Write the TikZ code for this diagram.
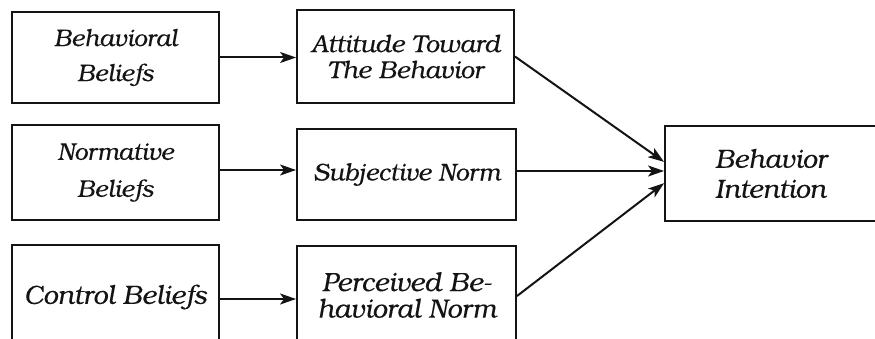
\documentclass[tikz,border=0pt]{standalone}
\usepackage{fontspec}
\setmainfont{TeX Gyre Bonum}
\usetikzlibrary{arrows.meta,calc}
\definecolor{ink}{HTML}{141414}
\tikzset{
  box/.style={draw=ink, line width=1.9pt, inner sep=0pt, text=ink, align=center},
  conn/.style={draw=ink, line width=2pt, -{Stealth[length=16pt,width=11pt,inset=4pt]}},
}
\newcommand{\bfnt}[2]{\itshape\addfontfeature{FakeBold=0.15}\fontsize{#1}{#2}\selectfont}
\begin{document}
\begin{tikzpicture}[x=1pt,y=-1pt]
\useasboundingbox (0,0) rectangle (875,339);
\clip (0,0) rectangle (875,339);
\node[box, minimum width=207pt, minimum height=91pt, font=\bfnt{24}{35}] (bb) at (115.5,57.5) {Behavioral\\Beliefs};
\node[box, minimum width=217pt, minimum height=93pt, font=\bfnt{24.7}{26}] (att) at (405.5,56.5) {Attitude Toward\\The Behavior};
\node[box, minimum width=207pt, minimum height=95pt, font=\bfnt{24}{37}] (nb) at (115.5,172.5) {Normative\\Beliefs};
\node[box, minimum width=219pt, minimum height=91pt, font=\bfnt{24.3}{30}] (sn) at (406.5,174.5) {Subjective Norm};
\node[box, minimum width=207pt, minimum height=104pt, font=\bfnt{26.5}{30}] (cb) at (115.5,297) {Control Beliefs};
\node[box, minimum width=219pt, minimum height=98pt, font=\bfnt{26.6}{26.5}] (pb) at (406.5,295) {Perceived Be-\\havioral Norm};
\node[box, align=left, minimum width=212pt, minimum height=95pt, font=\bfnt{26.3}{30}] (bi) at (771,173.5) {Behavior\\Intention};
\draw[conn] (bb.east) -- (bb.east -| att.west);
\draw[conn] (nb.east |- 0,170) -- (sn.west |- 0,170);
\draw[conn] (cb.east |- 0,299) -- (pb.west |- 0,299);
\draw[conn] (att.east) -- ($(bi.north west)!0.38!(bi.south west)$);
\draw[conn] (sn.east |- 0,171) -- (bi.west |- 0,171);
\draw[conn] ($(pb.north east)+(0,51)$) -- ($(bi.north west)!0.6!(bi.south west)$);
\end{tikzpicture}
\end{document}
